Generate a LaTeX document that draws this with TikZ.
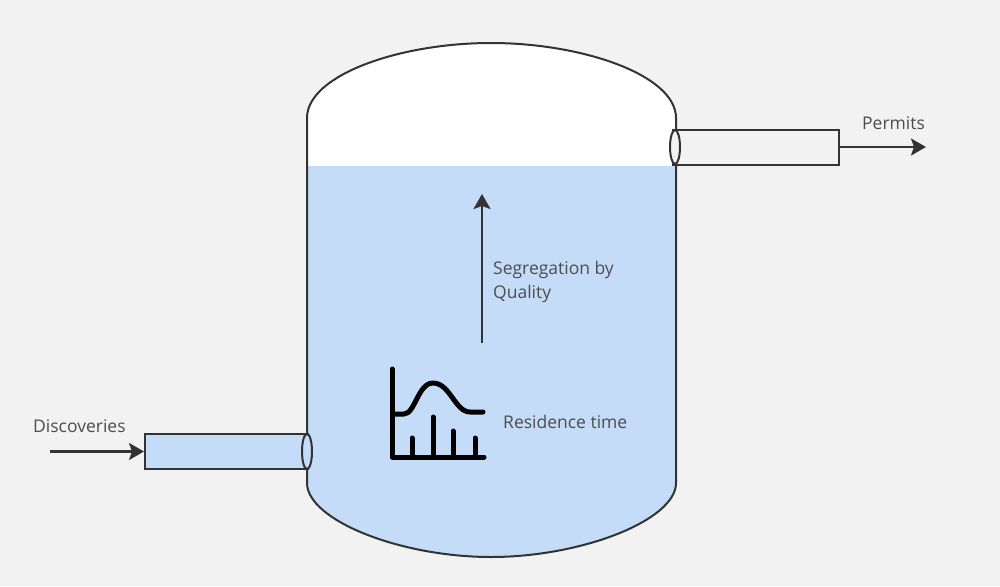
\documentclass[tikz,border=0pt]{standalone}
\usepackage{fontspec}
\setmainfont{Open Sans}
\usetikzlibrary{arrows.meta}
\definecolor{bg}{HTML}{F2F2F2}
\definecolor{liquid}{HTML}{C5DCF8}
\definecolor{edge}{HTML}{333333}
\definecolor{txt}{HTML}{4D4D4D}
\tikzset{
  x=1pt, y=-1pt,
  outline/.style={draw=edge, line width=2pt},
  flowarrow/.style={draw=edge, line width=2.4pt, -{Stealth[length=15pt,width=17pt,inset=3pt]}},
  lbl/.style={text=txt, font=\fontsize{17.5}{24}\selectfont, inner sep=0pt, anchor=base west, align=left},
  pipe/.style={outline, rectangle, inner sep=0pt, minimum height=35pt},
  iconline/.style={draw=black, line width=5pt, line cap=round, line join=round}
}
\begin{document}
\begin{tikzpicture}
\fill[bg] (0,0) rectangle (1000,586);
\useasboundingbox (0,0) rectangle (1000,586);
% vessel shape
\def\vessel{(307,118) .. controls (307,75) and (400,43) .. (491,43) .. controls (582,43) and (676,75) .. (676,118) -- (676,483) .. controls (676,520) and (582,557) .. (491,557) .. controls (400,557) and (307,520) .. (307,483) -- cycle}
\fill[white] \vessel;
\begin{scope}
  \clip \vessel;
  \fill[liquid] (300,166) rectangle (690,570);
\end{scope}
\draw[outline] \vessel;
% left pipe
\node[pipe, fill=liquid, minimum width=163pt] (pipeL) at (226.5,451.5) {};
\draw[outline, fill=liquid] (307,451.5) ellipse [x radius=5, y radius=17.5];
% right pipe
\node[pipe, fill=bg, minimum width=166pt] (pipeR) at (755.5,147) {};
\draw[outline, fill=bg] (675,147) ellipse [x radius=5, y radius=17];
% arrows
\coordinate (inL) at (50,451.5);
\coordinate (outR) at (926,147);
\draw[flowarrow] (inL) -- (pipeL.west);
\draw[flowarrow] (pipeR.east) -- (outR);
\coordinate (segB) at (482,343);
\coordinate (segT) at (482,194);
\draw[flowarrow] (segB) -- (segT);
% labels
\node[lbl] (disc) at (33,432) {Discoveries};
\node[lbl] (perm) at (862,129) {Permits};
\node[lbl] (seg) at (493,298) {Segregation by\\Quality};
\node[lbl] (res) at (503,428) {Residence time};
% icon
\draw[iconline] (392,369) -- (392,457) -- (484,457);
\draw[iconline] (394,414) -- (404,414) .. controls (415,414) and (418,383) .. (433,383) .. controls (450,383) and (455,412) .. (470,412) -- (483,412);
\draw[iconline] (412,438) -- (412,457);
\draw[iconline] (433,417) -- (433,457);
\draw[iconline] (453,431) -- (453,457);
\draw[iconline] (475,438) -- (475,457);
\end{tikzpicture}
\end{document}
